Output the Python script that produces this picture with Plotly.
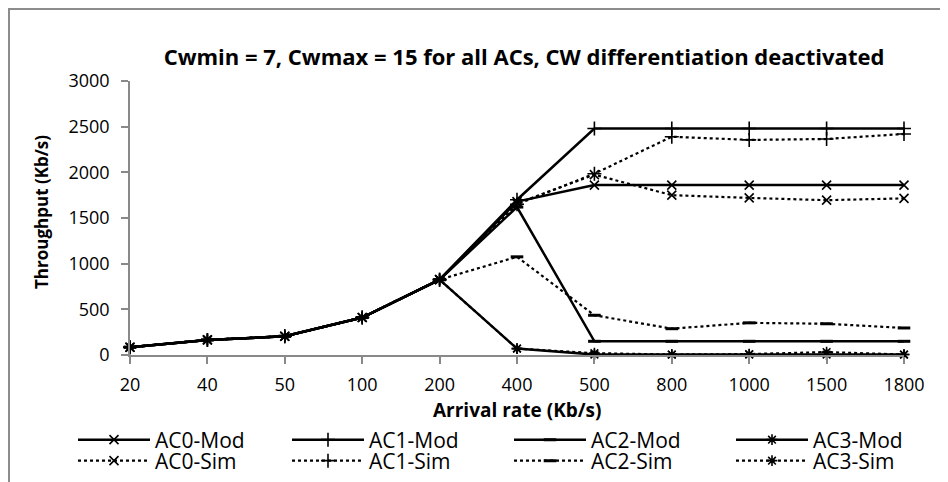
import plotly.graph_objects as go

categories = ["20", "40", "50", "100", "200", "400", "500", "800", "1000", "1500", "1800"]
ac0_mod = [85, 165, 205, 410, 825, 1680, 1860, 1860, 1860, 1860, 1860]
ac1_mod = [85, 165, 205, 410, 825, 1700, 2480, 2480, 2480, 2480, 2480]
ac2_mod = [85, 165, 205, 410, 825, 1620, 150, 150, 150, 150, 150]
ac3_mod = [85, 165, 205, 410, 825, 70, 5, 5, 5, 5, 5]
ac0_sim = [85, 165, 205, 410, 825, 1660, 1975, 1750, 1720, 1695, 1715]
ac1_sim = [85, 165, 205, 410, 825, 1650, 1985, 2390, 2355, 2365, 2420]
ac2_sim = [85, 165, 205, 410, 825, 1075, 435, 288, 352, 342, 296]
ac3_sim = [85, 165, 205, 410, 825, 70, 20, 5, 10, 32, 5]
y_ticks = [0, 500, 1000, 1500, 2000, 2500, 3000]

FONT = "Open Sans"
OFF = 8  # default page body margin
W, H = 948 - OFF, 482 - OFF
L, R, T, B = 130 - OFF, 44, 81 - OFF, 127
PW, PH = W - L - R, H - T - B


def px_x(x):
    # x in screen pixels -> paper coordinate
    return (x - OFF - L) / PW


def px_y(y):
    return (H - B - (y - OFF)) / PH


series = [
    ("AC0-Mod", ac0_mod, "solid", "x-thin", 9),
    ("AC1-Mod", ac1_mod, "solid", "cross-thin", 10),
    ("AC2-Mod", ac2_mod, "solid", "line-ew", 9),
    ("AC3-Mod", ac3_mod, "solid", "asterisk", 9),
    ("AC0-Sim", ac0_sim, "dot", "x-thin", 9),
    ("AC1-Sim", ac1_sim, "dot", "cross-thin", 10),
    ("AC2-Sim", ac2_sim, "dot", "line-ew", 9),
    ("AC3-Sim", ac3_sim, "dot", "asterisk", 9),
]

col_x = [73, 287, 509, 731]
row_y = [440, 461]

fig = go.Figure()
legend_layout = {}
for i, (name, vals, dash, sym, size) in enumerate(series):
    mlw = 3 if sym == "line-ew" else 1.6
    leg_name = "legend" if i == 0 else f"legend{i + 1}"
    fig.add_trace(go.Scatter(
        x=categories, y=vals, name=name, mode="lines+markers",
        line=dict(color="black", width=2.5 if dash == "solid" else 2.2, dash=dash),
        marker=dict(symbol=sym, size=size, color="black",
                    line=dict(color="black", width=mlw)),
        cliponaxis=False, legend=leg_name,
    ))
    legend_layout[leg_name] = dict(
        x=px_x(col_x[i % 4]), y=px_y(row_y[i // 4]),
        xanchor="left", yanchor="middle", orientation="h",
        font=dict(family=FONT, size=21, color="black"),
        bgcolor="rgba(0,0,0,0)", itemwidth=72,
    )

fig.update_layout(
    width=W, height=H,
    margin=dict(l=L, r=R, t=T, b=B, autoexpand=False),
    paper_bgcolor="white", plot_bgcolor="white",
    font=dict(family=FONT, color="black"),
    title=dict(
        text="<b>Cwmin = 7, Cwmax = 15 for all ACs, CW differentiation deactivated</b>",
        x=px_x(524), xref="paper", xanchor="center",
        y=1 - (57 - OFF) / H, yanchor="middle",
        font=dict(family=FONT, size=22, color="black"),
    ),
    xaxis=dict(
        type="category", range=[0, len(categories) - 1],
        showline=True, linecolor="#898989", linewidth=1.5,
        ticks="outside", ticklen=7, tickcolor="#898989", tickwidth=1.5,
        tickfont=dict(family=FONT, size=18, color="black"),
        ticklabelstandoff=6, showgrid=False, zeroline=False,
    ),
    yaxis=dict(
        range=[0, 3000], tickvals=y_ticks,
        showline=True, linecolor="#898989", linewidth=1.5,
        ticks="outside", ticklen=7, tickcolor="#898989", tickwidth=1.5,
        tickfont=dict(family=FONT, size=18, color="black"),
        ticklabelstandoff=8, showgrid=False, zeroline=False,
    ),
    showlegend=True,
    **legend_layout,
)

fig.add_annotation(
    text="<b>Arrival rate (Kb/s)</b>", xref="paper", yref="paper",
    x=px_x(517), y=px_y(410), showarrow=False, xanchor="center", yanchor="middle",
    font=dict(family=FONT, size=19, color="black"),
)
fig.add_annotation(
    text="<b>Throughput (Kb/s)</b>", xref="paper", yref="paper", textangle=-90,
    x=px_x(41), y=px_y(212), showarrow=False, xanchor="center", yanchor="middle",
    font=dict(family=FONT, size=17, color="black"),
)

fig.add_shape(
    type="rect", xref="paper", yref="paper",
    x0=px_x(9), x1=px_x(970), y0=px_y(500), y1=px_y(9),
    line=dict(color="#8c8c8c", width=2), fillcolor="rgba(0,0,0,0)", layer="below",
)

fig.write_html("out.html")
